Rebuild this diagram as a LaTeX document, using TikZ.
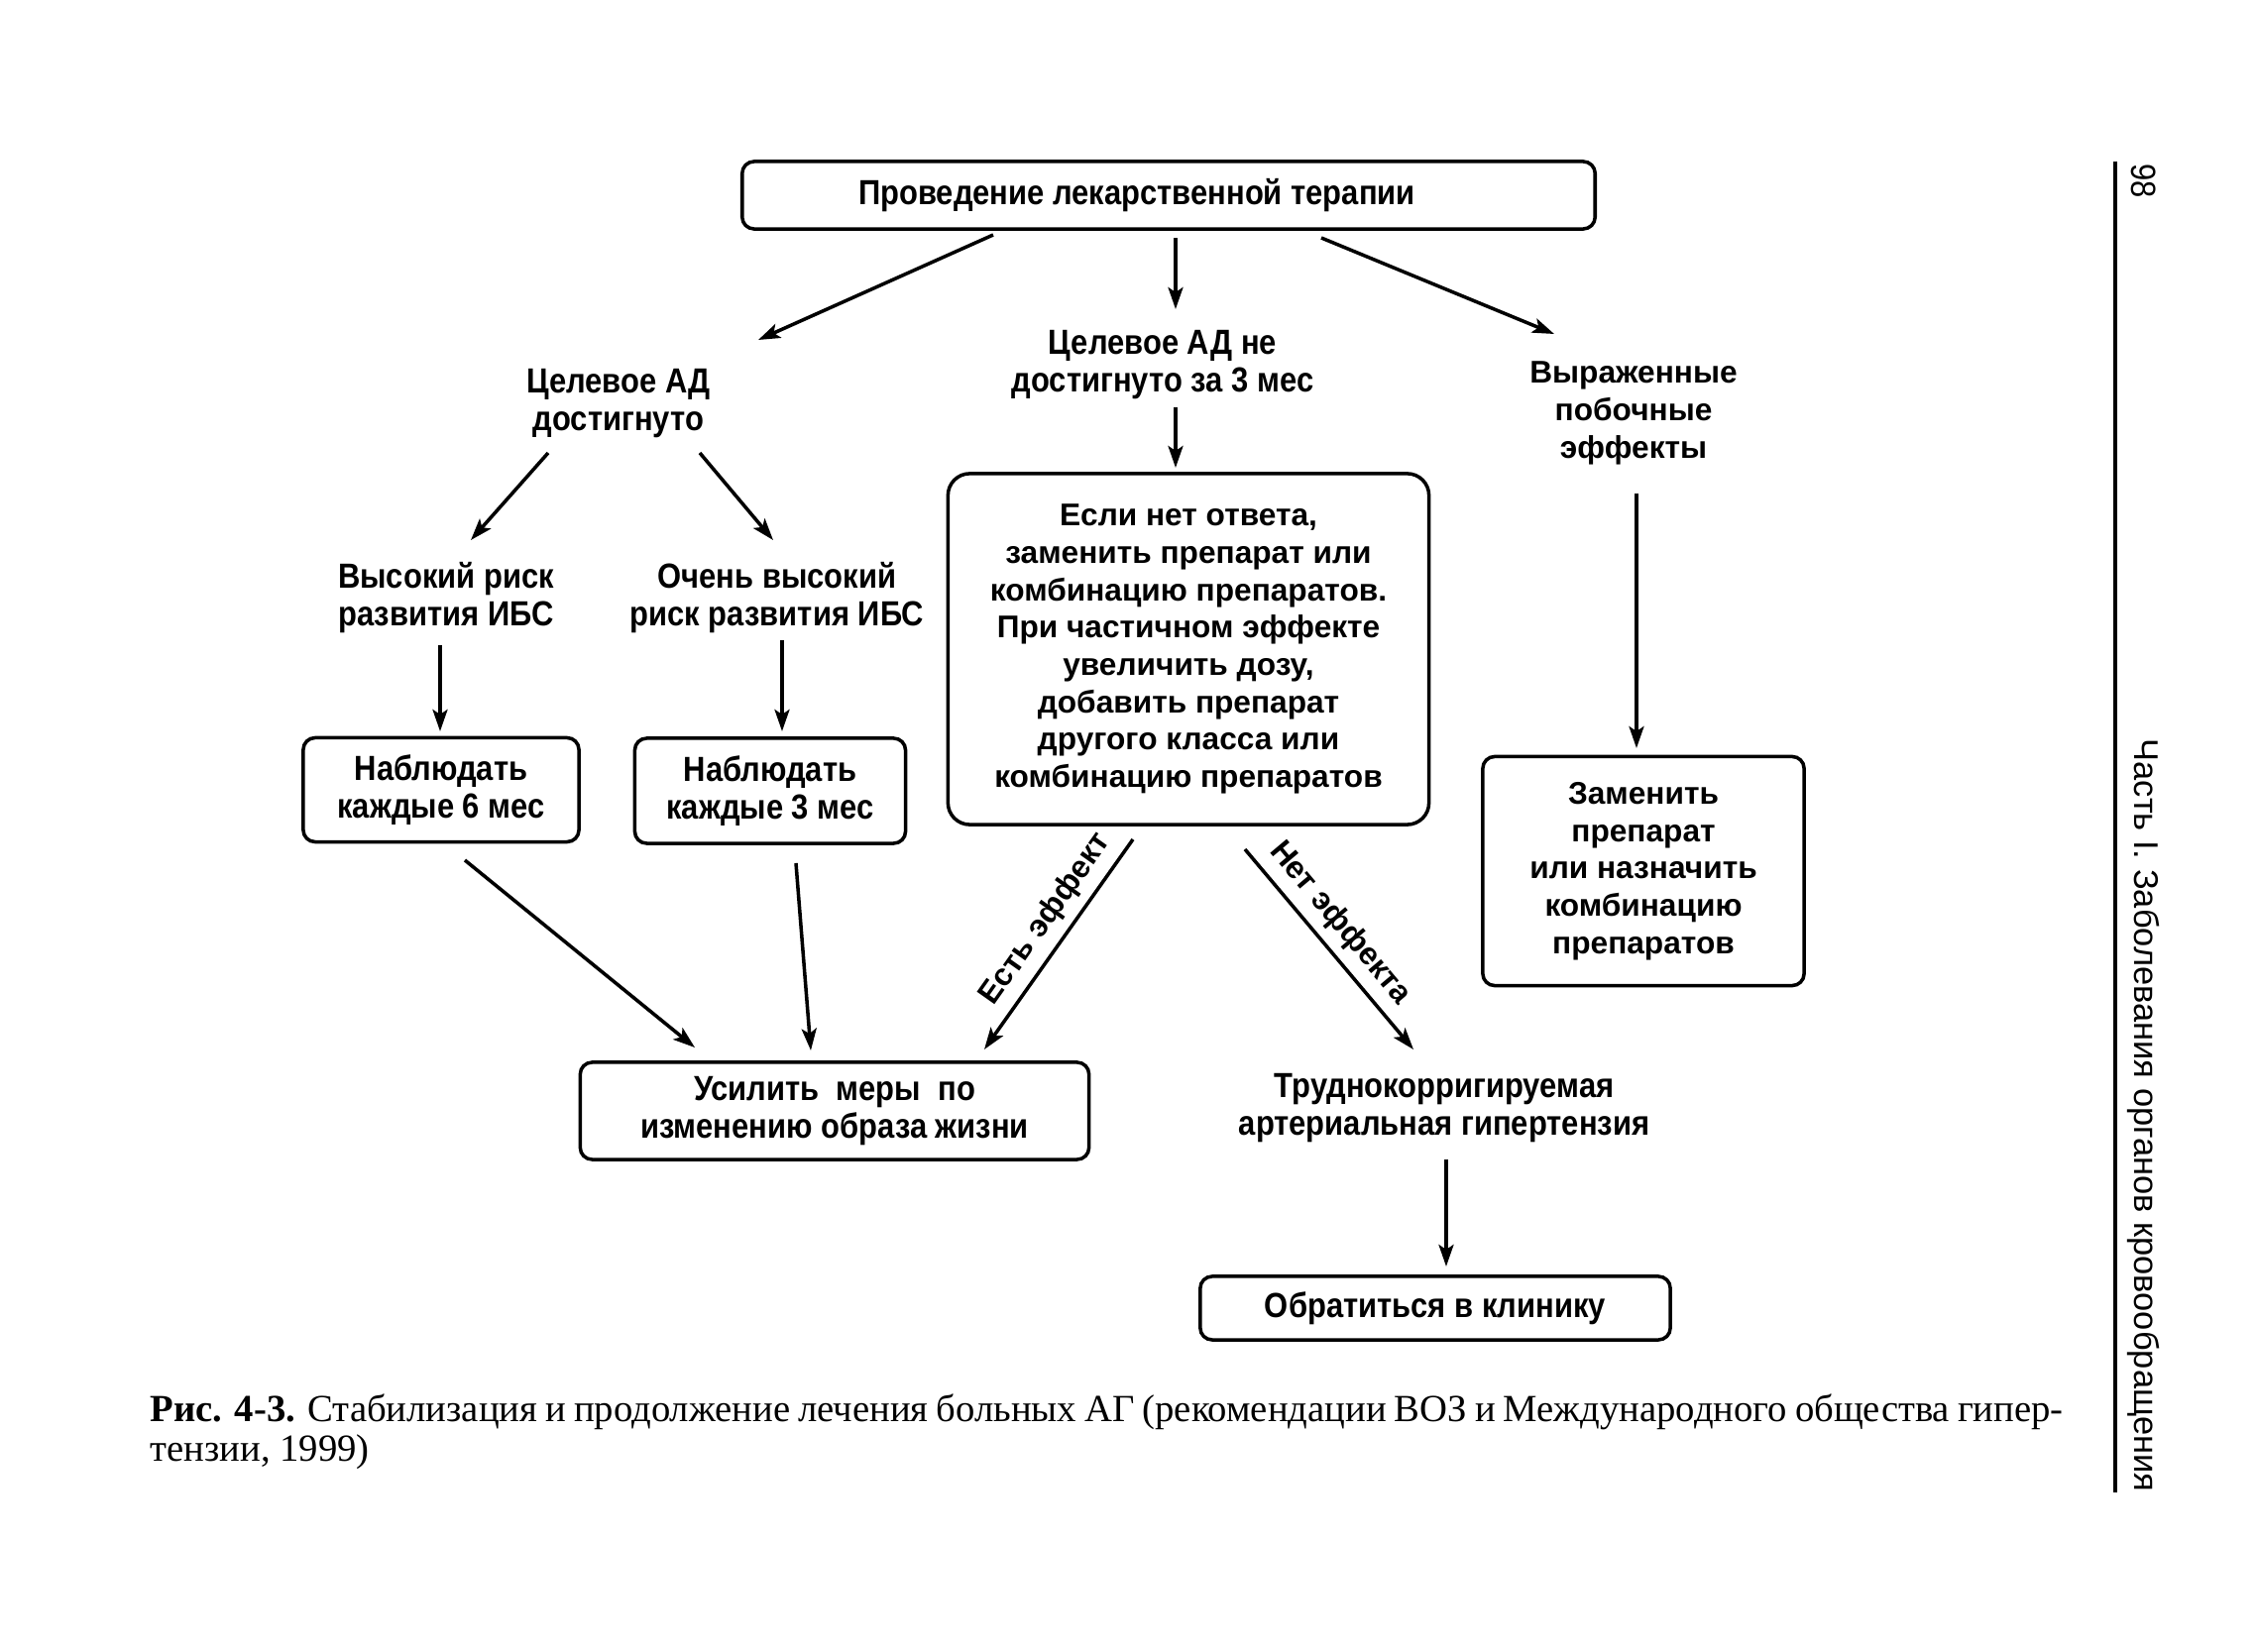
\documentclass[tikz,border=0pt]{standalone}
\usepackage{fontspec}
\setmainfont{Liberation Serif}
\newfontfamily\narrowsans[FakeStretch = 0.88]{Liberation Sans}
\newfontfamily\widesans{Liberation Sans}
\usetikzlibrary{arrows.meta}

\begin{document}
\begin{tikzpicture}[x = 0.01cm, y = -0.01cm,
    box/.style = {draw, line width = 1pt, rounded corners = 1.2mm, align = center, inner sep = 0pt},
    narrowtxt/.style = {align = center, font = \narrowsans\bfseries\fontsize{10}{10.8}\selectfont},
    widetxt/.style = {align = center, font = \widesans\bfseries\fontsize{9}{10.7}\selectfont},
    edgetxt/.style = {font = \widesans\bfseries\fontsize{9}{10}\selectfont, inner sep = 2.5pt},
    arr/.style = {line width = 1pt, -{Stealth[length = 2.2mm, width = 1.5mm, inset = 0.5mm]}}]
    \useasboundingbox (0,0) rectangle (2277,1667);

    \node [box, narrowtxt, minimum width = 8.6cm, minimum height = 0.68cm] (therapy) at (1179,197) {Проведение лекарственной терапии\hspace{0.64cm}};
    \node [narrowtxt] (reached) at (624,407) {Целевое АД\\достигнуто};
    \node [narrowtxt] (notreached) at (1173,368) {Целевое АД не\\достигнуто за 3 мес};
    \node [widetxt] (sideeff) at (1648,417) {Выраженные\\побочные\\эффекты};
    \node [narrowtxt] (highrisk) at (450,603) {Высокий риск\\развития ИБС};
    \node [narrowtxt] (vhighrisk) at (784,603) {Очень высокий\\риск развития ИБС};
    \node [box, narrowtxt, minimum width = 2.78cm, minimum height = 1.05cm] (watch6) at (445,797) {Наблюдать\\каждые 6 мес};
    \node [box, narrowtxt, minimum width = 2.73cm, minimum height = 1.06cm] (watch3) at (777,798) {Наблюдать\\каждые 3 мес};
    \node [box, widetxt, rounded corners = 2.2mm, minimum width = 4.85cm, minimum height = 3.54cm] (swap) at (1199,655)
        {Если нет ответа,\\заменить препарат или\\комбинацию препаратов.\\При частичном эффекте\\увеличить дозу,\\добавить препарат\\другого класса или\\комбинацию препаратов};
    \node [box, widetxt, minimum width = 3.24cm, minimum height = 2.31cm] (replace) at (1658,879) {Заменить\\препарат\\или назначить\\комбинацию\\препаратов};
    \node [box, narrowtxt, minimum width = 5.13cm, minimum height = 0.98cm] (lifestyle) at (842,1121) {Усилить\ \ меры\ \ по\\изменению образа жизни};
    \node [narrowtxt] (resistant) at (1457,1118) {Труднокорригируемая\\артериальная гипертензия};
    \node [box, narrowtxt, minimum width = 4.74cm, minimum height = 0.64cm] (clinic) at (1448,1320) {Обратиться в клинику};

    % arrows
    \draw [arr] ([shift = {(-177,40)}]therapy.center) -- ([shift = {(141,-64)}]reached.center);
    \draw [arr] ([shift = {(7,43)}]therapy.center) -- ([shift = {(13,-56)}]notreached.center);
    \draw [arr] ([shift = {(154,43)}]therapy.center) -- ([shift = {(-80,-80)}]sideeff.center);
    \draw [arr] ([shift = {(13,43)}]notreached.center) -- ([shift = {(-13,-183)}]swap.center);
    \draw [arr] ([shift = {(3,81)}]sideeff.center) -- ([shift = {(-7,-124)}]replace.center);
    \draw [arr] ([shift = {(-71,50)}]reached.center) -- ([shift = {(25,-58)}]highrisk.center);
    \draw [arr] ([shift = {(82,50)}]reached.center) -- ([shift = {(-4,-58)}]vhighrisk.center);
    \draw [arr] ([shift = {(-6,48)}]highrisk.center) -- ([shift = {(-1,-59)}]watch6.center);
    \draw [arr] ([shift = {(5,43)}]vhighrisk.center) -- ([shift = {(12,-60)}]watch3.center);
    \draw [arr] ([shift = {(24,71)}]watch6.center) -- ([shift = {(-141,-64)}]lifestyle.center);
    \draw [arr] ([shift = {(26,73)}]watch3.center) -- ([shift = {(-24,-61)}]lifestyle.center);
    \draw [arr] ([shift = {(-56,192)}]swap.center) -- node [pos = 0.45, sloped, above, edgetxt] {Есть эффект} ([shift = {(151,-62)}]lifestyle.center);
    \draw [arr] ([shift = {(57,202)}]swap.center) -- node [pos = 0.45, sloped, above, edgetxt] {Нет эффекта} ([shift = {(-31,-59)}]resistant.center);
    \draw [arr] ([shift = {(2,52)}]resistant.center) -- ([shift = {(11,-42)}]clinic.center);

    % caption and page margin
    \node [anchor = north west, inner sep = 0pt, text width = 19.29cm, align = justify, font = \fontsize{11}{11.4}\selectfont] (caption) at (151,1406)
        {\textbf{Рис. 4-3.} Стабилизация и продолжение лечения больных АГ (рекомендации ВОЗ и Международного общества гипер-\linebreak тензии, 1999)};
    \node [rotate = -90, anchor = east, inner sep = 0pt, font = \widesans\fontsize{9.8}{12}\selectfont] (runhead) at (2163,1506) {Часть I. Заболевания органов кровообращения};
    \node [rotate = -90, inner sep = 0pt, font = \narrowsans\fontsize{10}{12}\selectfont] (pagenum) at (2163,183) {98};
    \draw [line width = 1.2pt] (2134,163) -- (2134,1506);
\end{tikzpicture}
\end{document}
